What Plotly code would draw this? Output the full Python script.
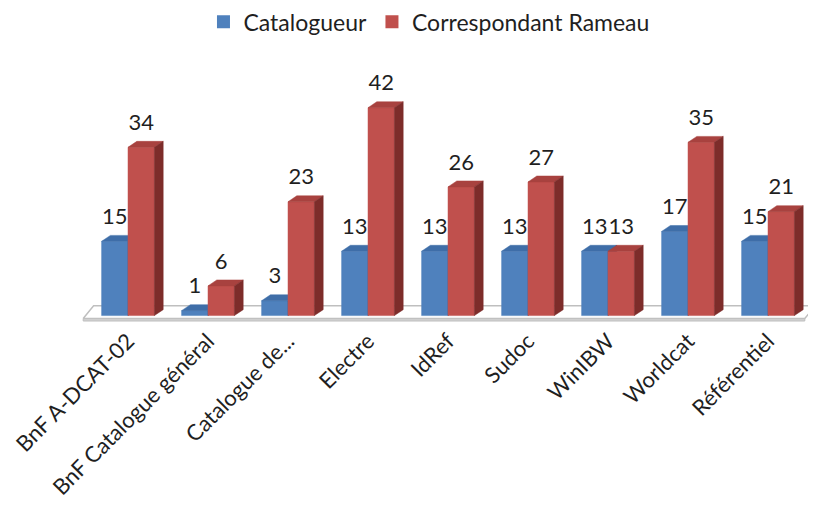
import plotly.graph_objects as go

# ── DATA ──────────────────────────────────────────────────────────
categories = ["BnF A-DCAT-02", "BnF Catalogue général", "Catalogue de...",
              "Electre", "IdRef", "Sudoc", "WinIBW", "Worldcat", "Référentiel"]
catalogueur = [15, 1, 3, 13, 13, 13, 13, 17, 15]
correspondant = [34, 6, 23, 42, 26, 27, 13, 35, 21]

# ── 3D LOOK ───────────────────────────────────────────────────────
BAR_W = 0.33   # width of each bar (category units)
DX = 0.11      # depth offset along x
DY = 1.2       # depth offset along y (value units)
FONT = "Lato, Calibri, Arial"

series = [
    dict(name="Catalogueur", values=catalogueur, x0=-BAR_W,
         front="#4F81BD", top="#3F6EA8", side="#2F5688"),
    dict(name="Correspondant Rameau", values=correspondant, x0=0.0,
         front="#C0504D", top="#A8423F", side="#7D2C2A"),
]


def polys(faces):
    xs, ys = [], []
    for pts in faces:
        for px, py in pts + [pts[0]]:
            xs.append(px)
            ys.append(py)
        xs.append(None)
        ys.append(None)
    return xs, ys


fig = go.Figure()

# floor
n = len(categories)
fx0, fx1 = -0.56, n - 1 + 0.46
fxs, fys = polys([[(fx0, -0.6), (fx1, -0.6), (fx1 + DX + 0.02, 2.0), (fx0 + DX + 0.02, 2.0)]])
fig.add_trace(go.Scatter(x=fxs, y=fys, fill="toself", fillcolor="white", mode="lines",
                         line=dict(color="#BFBFBF", width=1.5), showlegend=False,
                         hoverinfo="skip"))
sxs, sys_ = polys([[(fx0, -0.6), (fx1, -0.6), (fx1, -1.1), (fx0, -1.1)]])
fig.add_trace(go.Scatter(x=sxs, y=sys_, fill="toself", fillcolor="#D0D0D0", mode="lines",
                         line=dict(color="#BFBFBF", width=1), showlegend=False,
                         hoverinfo="skip"))

# bars: front, top, side faces per series
for s in series:
    front, top, side = [], [], []
    for i, v in enumerate(s["values"]):
        a = i + s["x0"]
        b = a + BAR_W
        front.append([(a, 0), (b, 0), (b, v), (a, v)])
        top.append([(a, v), (b, v), (b + DX, v + DY), (a + DX, v + DY)])
        side.append([(b, 0), (b + DX, DY), (b + DX, v + DY), (b, v)])
    for faces, col in [(front, s["front"]), (top, s["top"]), (side, s["side"])]:
        xs, ys = polys(faces)
        fig.add_trace(go.Scatter(
            x=xs, y=ys, fill="toself", fillcolor=col, mode="lines",
            line=dict(color=col, width=0.5), showlegend=False, hoverinfo="skip",
        ))
    # legend entry with a square marker
    fig.add_trace(go.Scatter(
        x=[None], y=[None], mode="markers", name=s["name"],
        marker=dict(symbol="square", size=13, color=s["front"]),
    ))

# value labels
for s in series:
    fig.add_trace(go.Scatter(
        x=[i + s["x0"] + BAR_W / 2 for i in range(n)],
        y=[v + DY + 1.2 for v in s["values"]],
        mode="text", text=[str(v) for v in s["values"]],
        textposition="top center", textfont=dict(size=22, color="#1F1F1F", family=FONT),
        showlegend=False, hoverinfo="skip", cliponaxis=False,
    ))

fig.update_layout(
    width=816, height=508,
    paper_bgcolor="white", plot_bgcolor="white",
    margin=dict(l=64, r=12, t=70, b=193, autoexpand=False),
    font=dict(family=FONT, size=20, color="#1F1F1F"),
    showlegend=True,
    legend=dict(orientation="h", x=0.4824, xanchor="center",
                y=1.229, yanchor="middle",
                font=dict(size=23), itemwidth=30, tracegroupgap=0),
    xaxis=dict(range=[-0.7, 8.55], tickmode="array", tickvals=list(range(n)),
               ticktext=categories, tickangle=-45, showgrid=False, zeroline=False,
               showline=False, ticks="", tickfont=dict(size=22), automargin=False),
    yaxis=dict(range=[-1.5, 48], visible=False, automargin=False),
)

fig.write_html("out.html")
